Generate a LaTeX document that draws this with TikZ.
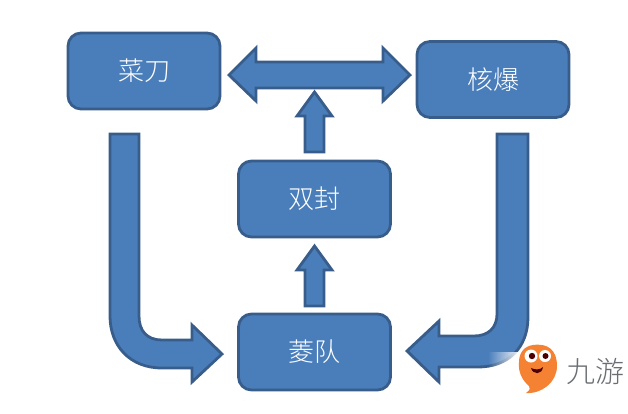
\documentclass[tikz,border=0pt]{standalone}
\usepackage{fontspec}
\newfontfamily\cjk{Noto Sans CJK SC}[UprightFont={* Light}]
\usetikzlibrary{fadings}
\definecolor{boxfill}{HTML}{4A7EBB}
\definecolor{boxline}{HTML}{385D8A}
\definecolor{mascot}{HTML}{F58233}
\definecolor{logotext}{HTML}{6A6E72}
\tikzset{
  cardbox/.style={draw=boxline,fill=boxfill,line width=2.8pt,rounded corners=13pt,
    minimum width=152pt,minimum height=76pt,inner sep=0pt,text=white,
    font=\cjk\fontsize{26}{30}\selectfont},
  blockarrow/.style={draw=boxline,fill=boxfill,line width=2.8pt,line join=miter},
}
\begin{document}
\begin{tikzpicture}[x=1pt,y=-1pt]
\useasboundingbox (0,0) rectangle (628,413);
\node[cardbox] (knife) at (144,71) {菜刀};
\node[cardbox] (nuke)  at (493,79.5) {核爆};
\node[cardbox] (seal)  at (314.5,199) {双封};
\node[cardbox] (team)  at (314.5,352) {菱队};
% two-way arrow between the top boxes
\draw[blockarrow] (229,75) -- (256,48) -- (256,62) -- (383,62) -- (383,48) -- (410,75)
  -- (383,101) -- (383,88) -- (256,88) -- (256,101) -- cycle;
% upward arrows through the middle column
\draw[blockarrow] (314.5,92) -- (332,116) -- (324,116) -- (324,152) -- (305,152)
  -- (305,116) -- (297,116) -- cycle;
\draw[blockarrow] (314.5,246) -- (332,270) -- (324,270) -- (324,306) -- (305,306)
  -- (305,270) -- (297,270) -- cycle;
% bent arrow down the left side
\draw[blockarrow] (110,134) -- (139,134) -- (139,316)
  .. controls (139,331) and (147,340) .. (162,340) -- (192,340) -- (192,325)
  -- (222,354) -- (192,382) -- (192,368) -- (162,368)
  .. controls (130,368) and (110,346) .. (110,316) -- cycle;
% bent arrow down the right side
\draw[blockarrow] (497,134) -- (528,134) -- (528,317)
  .. controls (528,348) and (508,367) .. (478,367) -- (439,367) -- (439,382)
  -- (407,351) -- (439,321) -- (439,336) -- (474,336)
  .. controls (488,336) and (497,328) .. (497,314) -- cycle;
% corner badge: soft white patch, mascot and wordmark
\fill[white,path fading=west] (488,352) rectangle (522,413);
\fill[white] (520,352) rectangle (628,413);
\fill[mascot] (533,345) .. controls (548,343) and (557,350) .. (557,366)
  .. controls (557,382) and (542,394) .. (526,393)
  .. controls (530,390) and (531,388) .. (529,386)
  .. controls (522,380) and (518,372) .. (519,362)
  .. controls (519,352) and (525,346) .. (533,345) -- cycle;
\fill[white] (531,356) circle (6.5pt) (545,356) circle (6pt);
\fill[black!70!red] (532,356) circle (3.2pt) (545.5,356) circle (3pt);
\fill[black!70!red] (531,368) .. controls (535,370) and (540,370) .. (543,367)
  .. controls (542,375) and (533,375) .. (531,368) -- cycle;
\node[inner sep=0pt,text=logotext,font=\cjk\fontsize{29}{32}\selectfont] (badge) at (595,371) {九游};
\end{tikzpicture}
\end{document}
